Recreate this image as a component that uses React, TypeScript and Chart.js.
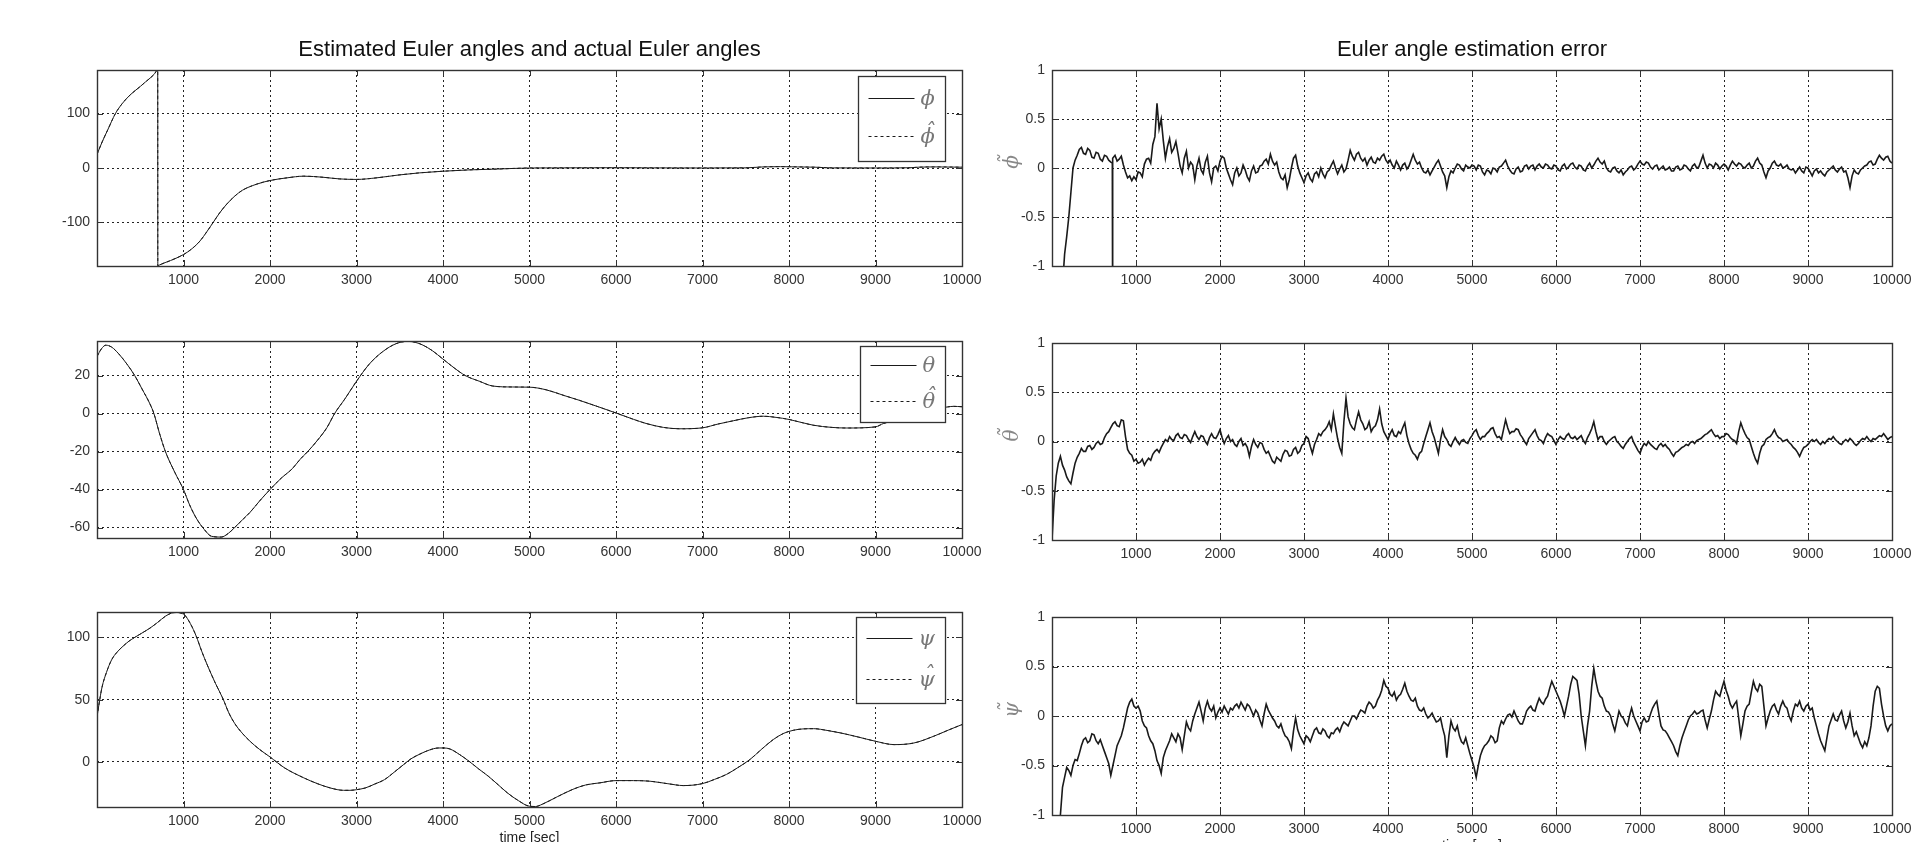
import React, { useEffect, useRef } from "react";
import { Chart, registerables } from "chart.js";

Chart.register(...registerables);

// ---------------- data ----------------
const X_TICKS = [1000, 2000, 3000, 4000, 5000, 6000, 7000, 8000, 9000, 10000];
const T_MIN = 0;
const T_MAX = 10000;
const ERR_STEP = 50; // sample spacing (sec) of the error series below; *_MID arrays sit half a step later

const PHI_TICKS = [-100, 0, 100];
const THETA_TICKS = [-60, -40, -20, 0, 20];
const PSI_TICKS = [0, 50, 100];
const ERR_TICKS = [-1, -0.5, 0, 0.5, 1];

const PHI_RANGE = [-180, 180];
const THETA_RANGE = [-65.5, 38.2];
const PSI_RANGE = [-36.2, 120.4];
const ERR_RANGE = [-1, 1];

// roll angle (deg)
const PHI_T = [0, 60, 124, 213, 290, 369, 440, 502, 560, 613, 660, 702, 703, 724, 850, 1000, 1100, 1191, 1270, 1347,
  1420, 1502, 1590, 1680, 1840, 2000, 2200, 2391, 2613, 2800, 3000, 3236, 3480, 3724, 3991, 4300, 4613, 5000, 5500, 6000,
  6500, 7000, 7500, 7700, 7900, 8100, 8300, 8500, 9000, 9400, 9500, 9700, 10000];
const PHI_V = [25, 48, 70, 100, 118, 132, 142, 150, 158, 165, 172, 180, -180, -178, -170, -159, -148, -134, -117, -99,
  -82, -66, -52, -41, -30, -23, -18, -15, -17, -20, -21, -18, -13, -9, -6, -3.5, -2, 0, 0.3, 0.5,
  0.2, 0, 0.3, 2, 2.5, 2, 1.5, 0.2, 0, 0.5, 1.5, 2, 1.5];
const PHI_HAT_V = [25, 48, 70, 100, 118, 132, 142, 150, 158, 165, 172, 180, -180, -178, -170, -159, -148, -134, -117, -99,
  -82, -66, -52, -41, -30, -23, -18, -15, -17, -20, -21, -18, -13, -9, -6, -3.5, -2, 0, 0.3, 0.5,
  0.2, 0, 0.3, 2, 2.5, 2, 1.5, 0.2, 0, 0.5, 1.5, 2, 1.5];

// pitch angle (deg)
const THETA_T = [0, 50, 102, 169, 250, 347, 436, 520, 613, 658, 720, 791, 900, 1000, 1070, 1147, 1240, 1324, 1436, 1520,
  1591, 1680, 1769, 1880, 2000, 2130, 2258, 2350, 2436, 2550, 2658, 2747, 2870, 3000, 3147, 3300, 3458, 3591, 3680, 3769,
  3880, 3991, 4130, 4258, 4421, 4575, 4800, 5000, 5193, 5400, 5575, 5800, 6000, 6200, 6347, 6550, 6737, 7000, 7180, 7355,
  7530, 7703, 7850, 8000, 8278, 8500, 8668, 9000, 9093, 9300, 9500, 9700, 9834, 9900, 10000];
const THETA_V = [30, 34, 36, 35, 31.5, 26, 20, 13, 5, 0, -10, -20, -31, -40, -48, -55, -61, -64.6, -65, -63,
  -60, -56, -52, -46, -40, -34, -29, -24, -20, -14, -7.4, 0, 8, 17, 26, 32.5, 36.8, 38, 37.5, 36,
  33, 29, 24, 20, 17, 14.5, 14, 13.9, 12.5, 9.5, 7, 3.5, 0.3, -3, -5.2, -7.3, -8, -7.5, -5.5, -3.8,
  -2.2, -1.4, -2, -3.1, -6.1, -7.3, -7.6, -7, -5.2, -3, 0, 2.5, 3.5, 3.8, 3.6];
const THETA_HAT_V = [30, 34, 36, 35, 31.5, 26, 20, 13, 5, 0, -10, -20, -31, -40, -48, -55, -61, -64.6, -65, -63,
  -60, -56, -52, -46, -40, -34, -29, -24, -20, -14, -7.4, 0, 8, 17, 26, 32.5, 36.8, 38, 37.5, 36,
  33, 29, 24, 20, 17, 14.5, 14, 13.9, 12.5, 9.5, 7, 3.5, 0.3, -3, -5.2, -7.3, -8, -7.5, -5.5, -3.8,
  -2.2, -1.4, -2, -3.1, -6.1, -7.3, -7.6, -7, -5.2, -3, 0, 2.5, 3.5, 3.8, 3.6];

// yaw angle (deg)
const PSI_T = [0, 20, 58, 110, 169, 230, 302, 370, 436, 520, 613, 700, 791, 860, 924, 970, 1013, 1080, 1147, 1210,
  1280, 1370, 1458, 1520, 1591, 1680, 1769, 1880, 2000, 2169, 2391, 2550, 2702, 2850, 2924, 3000, 3102, 3210, 3324, 3440,
  3547, 3630, 3724, 3840, 3947, 4010, 4080, 4190, 4302, 4410, 4524, 4640, 4747, 4870, 5000, 5070, 5147, 5320, 5502, 5650,
  5815, 6000, 6200, 6394, 6600, 6780, 7000, 7140, 7278, 7410, 7548, 7680, 7819, 7940, 8050, 8160, 8286, 8440, 8595, 8800,
  9000, 9216, 9444, 9672, 9840, 10000];
const PSI_V = [36, 45, 60, 72, 82, 88, 93, 97, 100, 103.5, 107.5, 112, 117, 119.5, 120, 119.5, 118, 111, 101, 89,
  77, 63, 50.5, 40, 31, 23, 16.6, 10, 4, -4.8, -12.8, -17.5, -21, -22.8, -22.8, -22.3, -20.9, -17.8, -14.2, -8,
  -2, 2.5, 6, 9.5, 11.2, 11.2, 10.4, 6, 0.5, -5.5, -11.5, -18.5, -25, -31, -35.6, -35.8, -34, -28, -22, -18.5,
  -16.8, -15, -15, -15.5, -17.5, -19, -17.4, -14, -10, -4.5, 1.9, 10, 18, 23, 25.4, 26.5, 26.7, 25.3, 23.3, 20,
  16.6, 13.9, 15.2, 20.6, 25.5, 30];
const PSI_HAT_V = [36, 45, 60, 72, 82, 88, 93, 97, 100, 103.5, 107.5, 112, 117, 119.5, 120, 119.5, 118, 111, 101, 89,
  77, 63, 50.5, 40, 31, 23, 16.6, 10, 4, -4.8, -12.8, -17.5, -21, -22.8, -22.8, -22.3, -20.9, -17.8, -14.2, -8,
  -2, 2.5, 6, 9.5, 11.2, 11.2, 10.4, 6, 0.5, -5.5, -11.5, -18.5, -25, -31, -35.6, -35.8, -34, -28, -22, -18.5,
  -16.8, -15, -15, -15.5, -17.5, -19, -17.4, -14, -10, -4.5, 1.9, 10, 18, 23, 25.4, 26.5, 26.7, 25.3, 23.3, 20,
  16.6, 13.9, 15.2, 20.6, 25.5, 30];

// estimation errors, one value every ERR_STEP seconds (0 .. 10000)
const PHI_ERR = [
  -2.6, -2.1, -1.55, -0.88, -0.5, 0.0, 0.13, 0.21, 0.14, 0.18, 0.1, 0.15, 0.07, 0.12, 0.06, 0.13, 0.09, 0.03, -0.1, -0.13,
  -0.12, -0.05, 0.04, 0.1, 0.24, 0.66, 0.5, 0.1, 0.3, 0.2, 0.15, -0.05, 0.17, 0.06, -0.12, 0.1, -0.06, 0.12, -0.14, 0.02,
  0.07, 0.1, -0.06, -0.17, 0.0, -0.05, -0.02, -0.13, 0.02, -0.04, 0.03, 0.09, 0.14, 0.03, -0.04, -0.12, -0.2, 0.0, 0.13, -0.05,
  -0.15, -0.05, -0.14, -0.04, 0.0, -0.1, -0.02, 0.07, -0.06, 0.03, -0.01, 0.18, 0.08, 0.16, 0.07, 0.03, 0.11, 0.05, 0.08, 0.14,
  0.05, 0.03, 0.07, -0.02, 0.05, 0.02, 0.14, 0.04, 0.0, -0.05, -0.07, 0.01, 0.08, -0.04, -0.2, -0.03, 0.0, 0.03, -0.03, 0.01,
  0.03, -0.02, 0.02, -0.07, -0.03, 0.0, -0.04, 0.02, 0.08, -0.02, -0.06, 0.01, -0.03, 0.03, 0.02, -0.02, 0.04, 0.0, 0.03, -0.01,
  0.02, -0.03, 0.04, 0.01, 0.05, -0.01, 0.02, -0.03, 0.05, 0.03, 0.1, 0.04, 0.0, -0.04, 0.01, -0.05, -0.07, -0.02, 0.02, 0.0,
  0.07, 0.03, 0.05, -0.01, 0.03, 0.0, -0.02, 0.01, -0.03, 0.02, -0.01, 0.02, -0.03, 0.04, 0.01, 0.13, 0.0, 0.03, 0.05, -0.01,
  0.04, -0.02, 0.07, 0.02, 0.04, 0.0, 0.05, 0.02, 0.1, 0.03, -0.1, 0.0, 0.07, 0.02, 0.0, 0.03, -0.02, -0.05, 0.01, -0.05,
  0.0, -0.08, -0.01, -0.03, -0.08, -0.02, 0.02, -0.04, 0.01, -0.03, -0.2, -0.02, -0.06, 0.0, 0.03, 0.07, 0.04, 0.13, 0.08, 0.12, 0.05,
];
const PHI_ERR_MID = [
  -2.35, -1.82, -1.2, -0.7, -0.25, 0.08, 0.19, 0.15, 0.2, 0.11, 0.16, 0.09, 0.13, 0.08, 0.1, 0.07, 0.12, -0.04, -0.08, -0.09,
  -0.04, -0.09, 0.09, 0.05, 0.32, 0.4, 0.28, 0.22, 0.16, 0.27, 0.02, 0.1, 0.0, 0.03, 0.02, -0.02, 0.06, -0.05, 0.0, -0.03,
  0.12, 0.0, -0.12, -0.05, -0.08, 0.03, -0.09, -0.03, -0.05, 0.02, 0.07, 0.04, 0.07, 0.06, -0.1, -0.07, -0.12, 0.1, 0.02, -0.1,
  -0.08, -0.11, -0.06, -0.09, -0.06, -0.04, 0.03, 0.0, -0.01, -0.04, 0.08, 0.12, 0.14, 0.1, 0.1, 0.08, 0.06, 0.1, 0.12, 0.08,
  0.08, 0.0, 0.03, 0.03, -0.01, 0.08, 0.08, 0.06, -0.04, -0.02, -0.03, 0.05, 0.02, -0.08, -0.09, -0.05, 0.04, -0.01, 0.03, 0.0,
  0.02, 0.03, -0.04, -0.02, -0.06, -0.01, 0.01, 0.05, 0.02, -0.05, -0.01, -0.04, 0.02, -0.01, 0.03, 0.02, 0.01, 0.04, 0.0, 0.03,
  -0.02, 0.02, -0.01, 0.04, 0.01, 0.03, -0.02, 0.02, 0.0, 0.07, 0.06, 0.07, -0.03, 0.0, -0.03, -0.02, -0.04, 0.01, -0.02, 0.04,
  0.04, 0.06, 0.01, 0.02, -0.02, 0.02, -0.01, -0.03, 0.01, -0.02, 0.03, -0.01, 0.02, 0.0, 0.07, 0.05, 0.04, 0.0, 0.03, 0.02,
  0.02, 0.03, 0.04, 0.05, 0.01, 0.03, 0.0, 0.07, 0.05, -0.04, -0.03, 0.05, 0.03, 0.04, 0.01, -0.01, -0.01, -0.02, -0.03, 0.01,
  -0.04, -0.03, -0.05, -0.06, -0.04, 0.0, -0.02, -0.01, -0.04, -0.1, -0.08, -0.05, -0.02, 0.02, 0.06, 0.03, 0.09, 0.1, 0.11, 0.07,
];
// the angle-wrap glitch of the roll error near t = 720 s
const PHI_ERR_GLITCH_T = [718, 720, 722];
const PHI_ERR_GLITCH_V = [0.05, -1.7, 0.1];

const THETA_ERR = [
  -1.0, -0.35, -0.15, -0.29, -0.4, -0.32, -0.16, -0.07, -0.1, -0.04, -0.06, 0.0, -0.02, 0.08, 0.14, 0.2, 0.15, 0.21, -0.08, -0.14,
  -0.18, -0.21, -0.24, -0.17, -0.13, -0.08, -0.06, 0.02, 0.05, 0.01, 0.08, 0.03, 0.06, -0.01, 0.1, 0.02, 0.05, -0.03, 0.08, 0.03,
  0.12, -0.02, 0.06, 0.02, -0.05, 0.03, -0.02, -0.15, 0.02, -0.06, -0.02, -0.12, -0.15, -0.22, -0.18, -0.13, -0.1, -0.14, -0.06, -0.1,
  -0.02, 0.03, -0.12, 0.02, 0.06, 0.12, 0.2, 0.28, 0.03, -0.12, 0.44, 0.18, 0.12, 0.3, 0.18, 0.14, 0.1, 0.16, 0.33, 0.1,
  0.02, 0.12, 0.05, 0.08, 0.19, -0.02, -0.12, -0.18, -0.1, 0.05, 0.19, 0.04, -0.12, 0.12, 0.02, -0.05, 0.04, -0.03, 0.02, -0.02,
  0.06, 0.12, 0.02, 0.05, 0.1, 0.14, 0.04, 0.02, 0.22, 0.08, 0.1, 0.12, 0.04, -0.03, 0.06, 0.12, 0.02, -0.02, 0.08, 0.05,
  -0.03, 0.05, 0.02, 0.08, 0.03, 0.02, 0.06, -0.02, 0.08, 0.2, 0.02, 0.05, -0.03, 0.02, 0.05, -0.02, -0.07, 0.0, 0.05, -0.05,
  -0.12, -0.02, 0.0, -0.05, -0.08, -0.02, -0.03, -0.08, -0.15, -0.1, -0.06, -0.03, -0.01, -0.02, 0.02, 0.05, 0.08, 0.12, 0.05, 0.03,
  0.05, 0.07, 0.02, -0.02, 0.19, 0.08, 0.02, -0.12, -0.22, -0.05, 0.02, 0.05, 0.12, 0.04, 0.0, 0.02, -0.03, -0.08, -0.15, -0.06,
  -0.03, 0.02, 0.02, -0.03, -0.02, 0.03, 0.05, 0.0, -0.03, 0.02, 0.03, -0.02, -0.02, 0.03, 0.05, 0.0, 0.02, 0.06, 0.08, 0.02, 0.05,
];
const THETA_ERR_MID = [
  -0.6, -0.22, -0.24, -0.36, -0.43, -0.22, -0.12, -0.1, -0.05, -0.08, -0.02, -0.03, 0.04, 0.1, 0.18, 0.16, 0.22, 0.05, -0.12, -0.2,
  -0.22, -0.18, -0.2, -0.19, -0.1, -0.11, -0.02, 0.0, 0.02, 0.06, 0.04, 0.07, 0.02, 0.05, 0.05, 0.06, 0.0, 0.04, 0.04, 0.07,
  0.04, 0.03, 0.0, -0.03, 0.0, -0.04, -0.06, -0.05, -0.03, -0.01, -0.08, -0.1, -0.2, -0.16, -0.2, -0.09, -0.15, -0.08, -0.12, -0.04,
  0.05, -0.05, -0.03, 0.08, 0.1, 0.15, 0.12, 0.15, -0.06, 0.2, 0.25, 0.14, 0.22, 0.22, 0.12, 0.2, 0.14, 0.22, 0.18, 0.06,
  0.08, 0.06, 0.1, 0.14, 0.06, -0.08, -0.14, -0.12, -0.02, 0.12, 0.1, -0.04, 0.02, 0.05, -0.03, 0.0, 0.0, 0.01, -0.01, 0.03,
  0.1, 0.06, 0.05, 0.08, 0.13, 0.08, 0.05, 0.12, 0.14, 0.1, 0.13, 0.07, 0.0, 0.03, 0.09, 0.06, 0.01, 0.04, 0.06, 0.01,
  0.02, 0.03, 0.06, 0.04, 0.05, 0.04, 0.01, 0.04, 0.13, 0.1, 0.05, 0.0, 0.0, 0.04, 0.0, -0.05, -0.03, 0.03, -0.01, -0.09,
  -0.06, -0.04, -0.03, -0.07, -0.04, -0.05, -0.06, -0.12, -0.11, -0.08, -0.05, -0.04, 0.0, 0.01, 0.03, 0.07, 0.1, 0.08, 0.06, 0.05,
  0.08, 0.04, 0.01, 0.1, 0.13, 0.04, -0.05, -0.18, -0.12, -0.03, 0.04, 0.08, 0.07, 0.03, 0.01, -0.01, -0.06, -0.11, -0.1, -0.05,
  0.0, 0.0, -0.01, 0.0, 0.01, 0.02, 0.02, -0.02, 0.0, 0.0, 0.01, -0.04, 0.01, 0.02, 0.02, 0.03, 0.04, 0.05, 0.05, 0.04,
];

const PSI_ERR = [
  -2.6, -1.9, -1.0, -0.62, -0.55, -0.5, -0.45, -0.3, -0.22, -0.25, -0.19, -0.28, -0.3, -0.42, -0.6, -0.4, -0.25, -0.12, 0.08, 0.17,
  0.08, 0.05, -0.1, -0.2, -0.28, -0.45, -0.58, -0.35, -0.25, -0.22, -0.18, -0.34, -0.06, -0.15, 0.02, 0.14, -0.05, 0.15, 0.05, -0.02,
  0.08, 0.1, 0.02, 0.06, 0.12, 0.14, 0.06, 0.1, 0.0, 0.03, -0.1, 0.12, 0.02, -0.05, -0.12, -0.15, -0.22, -0.33, -0.02, -0.2,
  -0.28, -0.22, -0.2, -0.12, -0.18, -0.15, -0.22, -0.18, -0.12, -0.1, -0.08, -0.05, 0.0, 0.02, 0.05, 0.1, 0.12, 0.1, 0.2, 0.36,
  0.28, 0.2, 0.16, 0.22, 0.33, 0.2, 0.15, 0.1, 0.05, 0.02, 0.0, -0.02, -0.05, -0.12, -0.42, -0.05, -0.15, -0.2, -0.28, -0.3,
  -0.45, -0.62, -0.4, -0.3, -0.25, -0.22, -0.25, -0.05, -0.03, 0.02, 0.05, -0.05, -0.08, 0.05, 0.1, 0.05, 0.18, 0.12, 0.2, 0.35,
  0.25, 0.15, 0.0, 0.2, 0.4, 0.36, 0.0, -0.3, 0.05, 0.48, 0.25, 0.18, 0.05, 0.0, -0.15, 0.05, -0.02, -0.1, 0.08, -0.05,
  -0.15, -0.02, -0.05, 0.08, 0.15, -0.1, -0.15, -0.22, -0.3, -0.4, -0.22, -0.1, 0.0, 0.05, 0.03, 0.06, -0.12, 0.05, 0.25, 0.2,
  0.35, 0.2, 0.08, 0.15, -0.2, 0.05, 0.12, 0.35, 0.25, 0.3, -0.1, 0.05, 0.12, 0.02, 0.15, 0.08, -0.05, 0.12, 0.15, 0.05,
  0.12, 0.08, -0.1, -0.25, -0.35, -0.1, 0.02, -0.05, 0.05, -0.12, 0.03, -0.2, -0.22, -0.32, -0.3, -0.1, 0.25, 0.28, 0.0, -0.15, -0.08,
];
const PSI_ERR_MID = [
  -2.2, -1.45, -0.72, -0.52, -0.6, -0.44, -0.38, -0.24, -0.27, -0.18, -0.25, -0.24, -0.36, -0.48, -0.5, -0.3, -0.2, -0.02, 0.14, 0.1,
  0.1, -0.05, -0.12, -0.25, -0.35, -0.5, -0.42, -0.3, -0.18, -0.26, -0.22, -0.2, -0.12, -0.05, 0.08, 0.05, 0.08, 0.08, 0.1, 0.04,
  0.04, 0.06, 0.08, 0.1, 0.08, 0.1, 0.12, 0.05, 0.06, -0.04, 0.02, 0.06, -0.02, -0.1, -0.08, -0.2, -0.26, -0.15, -0.14, -0.24,
  -0.2, -0.26, -0.14, -0.17, -0.13, -0.2, -0.17, -0.14, -0.16, -0.06, -0.1, 0.0, -0.03, 0.06, 0.03, 0.14, 0.08, 0.16, 0.26, 0.3,
  0.22, 0.24, 0.2, 0.27, 0.25, 0.16, 0.18, 0.06, 0.08, -0.02, 0.03, -0.06, -0.02, -0.2, -0.2, -0.12, -0.1, -0.26, -0.22, -0.38,
  -0.52, -0.5, -0.34, -0.28, -0.2, -0.27, -0.12, -0.08, 0.01, -0.01, 0.0, -0.08, -0.02, 0.08, 0.06, 0.12, 0.14, 0.17, 0.28, 0.3,
  0.2, 0.08, 0.1, 0.32, 0.38, 0.22, -0.15, -0.1, 0.3, 0.35, 0.2, 0.1, 0.04, -0.08, -0.05, 0.0, -0.07, 0.0, 0.0, -0.1,
  -0.06, -0.06, 0.02, 0.12, 0.02, -0.14, -0.18, -0.26, -0.36, -0.3, -0.16, -0.04, 0.02, 0.02, 0.05, -0.04, -0.03, 0.16, 0.22, 0.28,
  0.26, 0.12, 0.12, -0.02, -0.08, 0.1, 0.24, 0.28, 0.32, 0.1, -0.02, 0.1, 0.06, 0.1, 0.1, 0.0, 0.05, 0.1, 0.08, 0.1,
  0.06, -0.02, -0.18, -0.3, -0.22, -0.04, -0.04, 0.01, -0.05, -0.06, -0.1, -0.16, -0.28, -0.26, -0.22, 0.1, 0.3, 0.12, -0.1, -0.1,
];

const TITLE_LEFT = "Estimated Euler angles and actual Euler angles";
const TITLE_RIGHT = "Euler angle estimation error";
const X_LABEL = "time [sec]";

// ---------------- helpers ----------------
type Pt = { x: number; y: number };
const pairSeries = (t: number[], v: number[]): Pt[] => t.map((x, i) => ({ x, y: v[i] }));
const stepSeries = (v: number[], mid: number[], extraT: number[] = [], extraV: number[] = []): Pt[] => {
  const pts = v.map((y, i) => ({ x: i * ERR_STEP, y }));
  mid.forEach((y, i) => pts.push({ x: i * ERR_STEP + ERR_STEP / 2, y }));
  extraT.forEach((x, i) => pts.push({ x, y: extraV[i] }));
  return pts.sort((a, b) => a.x - b.x);
};

const ACCENTS: Record<string, string> = { "\u0302": "\u02C6", "\u0303": "\u02DC" };

// draws a letter with an optional combining accent drawn as a separate glyph
function drawSymbol(ctx: CanvasRenderingContext2D, label: string, x: number, y: number, align: "left" | "center") {
  const base = label.charAt(0);
  const acc = ACCENTS[label.slice(1)] || "";
  const w = ctx.measureText(base).width;
  const left = align === "left" ? x : x - w / 2;
  ctx.textAlign = "left";
  ctx.textBaseline = "middle";
  ctx.fillText(base, left, y);
  if (acc) {
    ctx.textAlign = "center";
    ctx.fillText(acc, left + w / 2 + 2, y - 5);
  }
}

const YW = 60, PL = 10, PT = 46, PR = 34, XH = 46;
const TICK_FONT = { family: '"Liberation Sans", Arial, sans-serif', size: 14 };
const INK = "#1a1a1a";

type Box = { left: number; top: number; right: number; bottom: number };
type LegendSpec = { width: number; height: number; top: number; right: number; rows: number[] };
type Spec = {
  box: Box;
  range: number[];
  yTicks: number[];
  series: { data: Pt[]; label: string; dashed?: boolean; smooth?: boolean; width?: number }[];
  title?: string;
  yTitle?: string;
  xLabel?: string;
  legend?: LegendSpec;
};

const decoPlugin = {
  id: "deco",
  afterDatasetsDraw(chart: any, _a: any, opts: any) {
    const { ctx, chartArea: a, scales } = chart;
    ctx.save();
    ctx.strokeStyle = "#333";
    ctx.lineWidth = 1;
    ctx.setLineDash([]);
    ctx.beginPath();
    for (const t of scales.x.ticks) {
      const px = Math.round(scales.x.getPixelForValue(t.value)) + 0.5;
      ctx.moveTo(px, a.bottom); ctx.lineTo(px, a.bottom - 6);
      ctx.moveTo(px, a.top); ctx.lineTo(px, a.top + 6);
    }
    for (const t of scales.y.ticks) {
      const py = Math.round(scales.y.getPixelForValue(t.value)) + 0.5;
      ctx.moveTo(a.left, py); ctx.lineTo(a.left + 6, py);
      ctx.moveTo(a.right, py); ctx.lineTo(a.right - 6, py);
    }
    ctx.stroke();
    ctx.lineWidth = 1.4;
    ctx.strokeRect(Math.round(a.left) + 0.5, Math.round(a.top) + 0.5, Math.round(a.right - a.left), Math.round(a.bottom - a.top));

    const L: LegendSpec | undefined = opts.legend;
    if (L) {
      const bx = Math.round(a.right - L.right - L.width) + 0.5;
      const by = Math.round(a.top + L.top) + 0.5;
      ctx.fillStyle = "#fff";
      ctx.fillRect(bx, by, L.width, L.height);
      ctx.strokeStyle = "#333";
      ctx.lineWidth = 1.3;
      ctx.strokeRect(bx, by, L.width, L.height);
      chart.data.datasets.forEach((ds: any, i: number) => {
        const y = Math.round(by + L.rows[i]) + 0.5;
        ctx.setLineDash(ds.borderDash || []);
        ctx.strokeStyle = INK;
        ctx.lineWidth = 1;
        ctx.beginPath();
        ctx.moveTo(bx + 10, y);
        ctx.lineTo(bx + 56, y);
        ctx.stroke();
        ctx.setLineDash([]);
        ctx.fillStyle = "#777";
        ctx.font = 'italic 21px "DejaVu Serif", serif';
        drawSymbol(ctx, ds.label, bx + 62, y + 1, "left");
      });
    }
    ctx.restore();
  },
  afterDraw(chart: any, _a: any, opts: any) {
    const { ctx, chartArea: a } = chart;
    const cx = (a.left + a.right) / 2;
    ctx.save();
    if (opts.title) {
      ctx.fillStyle = "#111";
      ctx.font = '22px "Liberation Sans", Arial, sans-serif';
      ctx.textAlign = "center";
      ctx.textBaseline = "middle";
      ctx.fillText(opts.title, cx, a.top - 20);
    }
    if (opts.xLabel) {
      ctx.fillStyle = "#222";
      ctx.font = '14px "Liberation Sans", Arial, sans-serif';
      ctx.textAlign = "center";
      ctx.textBaseline = "middle";
      ctx.fillText(opts.xLabel, cx, a.bottom + 31);
    }
    if (opts.yTitle) {
      ctx.translate(a.left - 39, (a.top + a.bottom) / 2 - 6);
      ctx.rotate(-Math.PI / 2);
      ctx.fillStyle = "#888";
      ctx.font = 'italic 20px "DejaVu Serif", serif';
      drawSymbol(ctx, opts.yTitle, 0, 0, "center");
    }
    ctx.restore();
  },
};

function Panel({ spec }: { spec: Spec }) {
  const ref = useRef<HTMLCanvasElement | null>(null);
  const { box } = spec;
  const width = box.right - box.left + YW + PL + PR;
  const height = box.bottom - box.top + PT + XH;

  useEffect(() => {
    if (!ref.current) return;
    const chart = new Chart(ref.current, {
      type: "line",
      data: {
        datasets: spec.series.map((s) => ({
          label: s.label,
          data: s.data,
          borderColor: INK,
          borderWidth: s.width ?? 1,
          borderDash: s.dashed ? [3, 3] : [],
          pointRadius: 0,
          fill: false,
          tension: 0,
          cubicInterpolationMode: s.smooth ? "monotone" : "default",
        })),
      },
      options: {
        animation: false,
        responsive: false,
        maintainAspectRatio: false,
        events: [],
        layout: { padding: { left: PL, top: PT, right: PR, bottom: 0 } },
        plugins: {
          legend: { display: false },
          tooltip: { enabled: false },
          title: { display: false },
          deco: { title: spec.title, yTitle: spec.yTitle, xLabel: spec.xLabel, legend: spec.legend },
        } as any,
        scales: {
          x: {
            type: "linear",
            min: T_MIN,
            max: T_MAX,
            afterBuildTicks: (s: any) => { s.ticks = X_TICKS.map((v) => ({ value: v })); },
            afterFit: (s: any) => { s.height = XH; },
            grid: { color: "#222", lineWidth: 1, drawTicks: false },
            border: { display: false, dash: [2, 3] },
            ticks: { color: "#333", font: TICK_FONT, padding: 6, maxRotation: 0, autoSkip: false, callback: (v: any) => String(v) },
          },
          y: {
            type: "linear",
            min: spec.range[0],
            max: spec.range[1],
            afterBuildTicks: (s: any) => { s.ticks = spec.yTicks.map((v) => ({ value: v })); },
            afterFit: (s: any) => { s.width = YW; },
            grid: { color: "#222", lineWidth: 1, drawTicks: false },
            border: { display: false, dash: [2, 3] },
            ticks: { color: "#333", font: TICK_FONT, padding: 7, autoSkip: false, callback: (v: any) => String(v) },
          },
        },
      },
      plugins: [decoPlugin as any],
    });
    return () => chart.destroy();
  }, []);

  return (
    <canvas
      ref={ref}
      width={width}
      height={height}
      style={{ position: "absolute", left: box.left - YW - PL, top: box.top - PT, width, height }}
    />
  );
}

const LX = { left: 97, right: 962 };
const RX = { left: 1052, right: 1892 };

const SPECS: Spec[] = [
  {
    box: { ...LX, top: 70, bottom: 266 },
    range: PHI_RANGE, yTicks: PHI_TICKS, title: TITLE_LEFT,
    legend: { width: 87, height: 85, top: 6, right: 17, rows: [21, 59] },
    series: [
      { data: pairSeries(PHI_T, PHI_V), label: "ϕ", smooth: true },
      { data: pairSeries(PHI_T, PHI_HAT_V), label: "ϕ\u0302", smooth: true, dashed: true },
    ],
  },
  {
    box: { ...LX, top: 341, bottom: 538 },
    range: THETA_RANGE, yTicks: THETA_TICKS,
    legend: { width: 85, height: 76, top: 5, right: 17, rows: [18, 54] },
    series: [
      { data: pairSeries(THETA_T, THETA_V), label: "θ", smooth: true },
      { data: pairSeries(THETA_T, THETA_HAT_V), label: "θ\u0302", smooth: true, dashed: true },
    ],
  },
  {
    box: { ...LX, top: 612, bottom: 807 },
    range: PSI_RANGE, yTicks: PSI_TICKS, xLabel: X_LABEL,
    legend: { width: 89, height: 86, top: 5, right: 17, rows: [20, 61] },
    series: [
      { data: pairSeries(PSI_T, PSI_V), label: "ψ", smooth: true },
      { data: pairSeries(PSI_T, PSI_HAT_V), label: "ψ\u0302", smooth: true, dashed: true },
    ],
  },
  {
    box: { ...RX, top: 70, bottom: 266 },
    range: ERR_RANGE, yTicks: ERR_TICKS, title: TITLE_RIGHT, yTitle: "ϕ\u0303",
    series: [{ data: stepSeries(PHI_ERR, PHI_ERR_MID, PHI_ERR_GLITCH_T, PHI_ERR_GLITCH_V), label: "ϕ\u0303", width: 1.6 }],
  },
  {
    box: { ...RX, top: 343, bottom: 540 },
    range: ERR_RANGE, yTicks: ERR_TICKS, yTitle: "θ\u0303",
    series: [{ data: stepSeries(THETA_ERR, THETA_ERR_MID), label: "θ\u0303", width: 1.6 }],
  },
  {
    box: { ...RX, top: 617, bottom: 815 },
    range: ERR_RANGE, yTicks: ERR_TICKS, yTitle: "ψ\u0303", xLabel: X_LABEL,
    series: [{ data: stepSeries(PSI_ERR, PSI_ERR_MID), label: "ψ\u0303", width: 1.6 }],
  },
];

export default function App() {
  return (
    <div style={{ position: "absolute", left: 0, top: 0, width: 1930, height: 842, overflow: "hidden", background: "#fff" }}>
      {SPECS.map((s, i) => (
        <Panel key={i} spec={s} />
      ))}
    </div>
  );
}
